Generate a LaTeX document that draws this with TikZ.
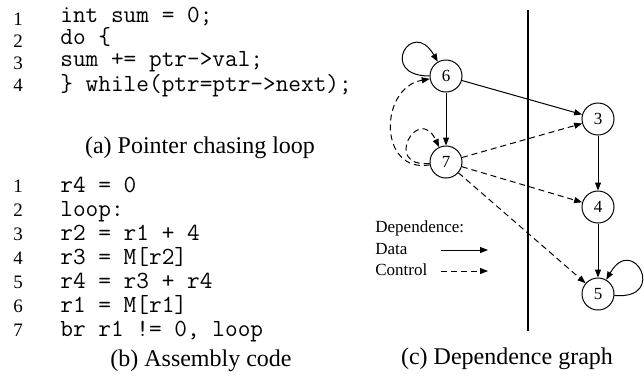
\documentclass[tikz,border=0pt]{standalone}
\usepackage{fontspec}
\setmainfont{Liberation Serif}
\usetikzlibrary{arrows.meta}

\begin{document}
\begin{tikzpicture}[x=0.5pt, y=-0.5pt,
        lnuma/.style={anchor=base west, inner sep=0pt, align=left, font=\fontsize{9.5}{11}\selectfont},
        codea/.style={anchor=base west, inner sep=0pt, align=left, font=\fontsize{12.3}{11}\ttfamily},
        lnumb/.style={lnuma, font=\fontsize{9.5}{12}\selectfont},
        codeb/.style={codea, font=\fontsize{12.3}{12}\ttfamily},
        caption/.style={inner sep=0pt, font=\fontsize{12}{14}\selectfont},
        legend/.style={anchor=west, inner sep=0pt, text height=6pt, text depth=2pt, font=\fontsize{8.5}{10}\selectfont},
        vert/.style={circle, draw, line width=0.5pt, minimum size=16pt, inner sep=0pt, font=\fontsize{8.5}{10}\selectfont},
        data/.style={line width=0.5pt, -{Triangle[length=4pt, width=3pt]}},
        ctrl/.style={data, dash pattern=on 3pt off 2pt}]
    \useasboundingbox (0,0) rectangle (644,377);

    \node[lnuma] (numa) at (13,91) {1\\2\\3\\4};
    \node[codea] (loopc) at (60,91) {int sum = 0;\\do \{\\sum += ptr->val;\\\} while(ptr=ptr->next);};
    \node[caption] (capa) at (200,148) {(a) Pointer chasing loop};

    \node[lnumb] (numb) at (13,336) {1\\2\\3\\4\\5\\6\\7};
    \node[codeb] (asmc) at (60,336) {r4 = 0\\loop:\\r2 = r1 + 4\\r3 = M[r2]\\r4 = r3 + r4\\r1 = M[r1]\\br r1 != 0, loop};
    \node[caption] (capb) at (201,361) {(b) Assembly code};

    \draw [line width=1.3pt] (528,10) -- (528,331);

    \node[vert] (v6) at (446,76) {6};
    \node[vert] (v7) at (446,162) {7};
    \node[vert] (v3) at (598,119) {3};
    \node[vert] (v4) at (598,207) {4};
    \node[vert] (v5) at (598,294) {5};

    \draw [data] (v6) to[out=180, in=120, distance=26pt] (v6);
    \draw [data] (v6) -- (v7);
    \draw [data] (v6) -- (v3);
    \draw [data] (v3) -- (v4);
    \draw [data] (v4) -- (v5);
    \draw [data] (v5) to[out=-5, in=60, distance=27pt] (v5);
    \draw [ctrl] (v7) to[out=185, in=115, distance=24pt] (v7);
    \draw [ctrl] (v7) to[out=190, in=190, distance=26pt] (v6);
    \draw [ctrl] (v7) -- (v3);
    \draw [ctrl] (v7) -- (v4);
    \draw [ctrl] (v7) -- (v5);

    \node[legend] (ldep) at (375,228) {Dependence:};
    \node[legend] (ldata) at (375,250) {Data};
    \node[legend] (lctrl) at (375,271) {Control};
    \coordinate (da0) at (441,250);
    \coordinate (da1) at (488,250);
    \coordinate (ct0) at (441,271);
    \coordinate (ct1) at (488,271);
    \draw [data] (da0) -- (da1);
    \draw [ctrl] (ct0) -- (ct1);
    \node[caption] (capc) at (507,359) {(c) Dependence graph};
\end{tikzpicture}
\end{document}
